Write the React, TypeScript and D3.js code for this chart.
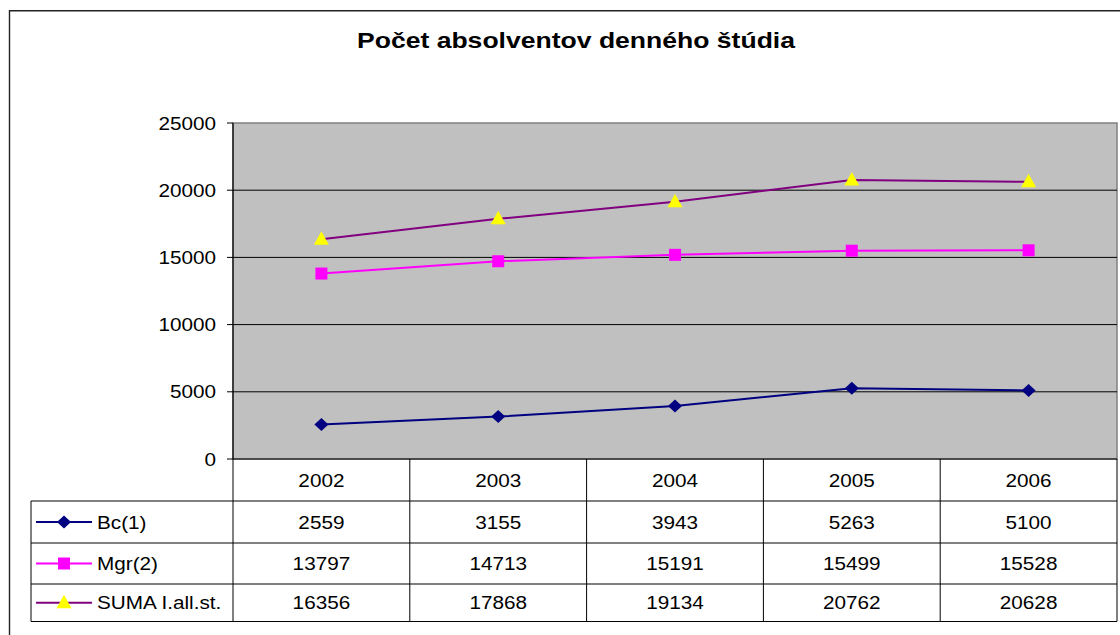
import React from "react";
import * as d3 from "d3";

const years = ["2002", "2003", "2004", "2005", "2006"];
const seriesNames = ["Bc(1)", "Mgr(2)", "SUMA I.all.st."];
const bcValues = [2559, 3155, 3943, 5263, 5100];
const mgrValues = [13797, 14713, 15191, 15499, 15528];
const sumaValues = [16356, 17868, 19134, 20762, 20628];
const yTicks = [0, 5000, 10000, 15000, 20000, 25000];
const title = "Počet absolventov denného štúdia";

const FONT = "'Liberation Sans', Arial, sans-serif";

const series = [
  { name: seriesNames[0], values: bcValues, line: "#000080", fill: "#000080", marker: "diamond" },
  { name: seriesNames[1], values: mgrValues, line: "#FF00FF", fill: "#FF00FF", marker: "square" },
  { name: seriesNames[2], values: sumaValues, line: "#800080", fill: "#FFFF00", marker: "triangle" },
];

function Marker({ kind, x, y, fill }: { kind: string; x: number; y: number; fill: string }) {
  if (kind === "diamond") {
    return <path d={`M${x},${y - 6.5} L${x + 7},${y} L${x},${y + 6.5} L${x - 7},${y} Z`} fill={fill} />;
  }
  if (kind === "square") {
    return <rect x={x - 6} y={y - 6} width={12} height={12} fill={fill} />;
  }
  return <path d={`M${x},${y - 8} L${x + 7.5},${y + 5.5} L${x - 7.5},${y + 5.5} Z`} fill={fill} />;
}

function SText({ x, y, anchor, children, size = 18.5 }: any) {
  return (
    <text
      transform={`translate(${x},${y}) scale(1.12,1)`}
      textAnchor={anchor}
      fontFamily={FONT}
      fontSize={size}
      fill="#000"
    >
      {children}
    </text>
  );
}

export default function App() {
  const W = 1120, H = 635;
  const left = 233, right = 1117, top = 123, bottom = 459;
  const x = d3.scaleBand<string>().domain(years).range([left, right]);
  const y = d3.scaleLinear().domain([0, 25000]).range([bottom, top]);
  const rowTops = [459, 501, 543, 584, 621.5];
  const tableLeft = 31;
  const line = d3
    .line<number>()
    .x((_, i) => (x(years[i]) as number) + x.bandwidth() / 2)
    .y((v) => y(v));

  return (
    <svg width={W} height={H} style={{ position: "absolute", left: 0, top: 0, background: "#fff" }}>
      <rect x={0} y={0} width={W} height={H} fill="#fff" />
      {/* outer frame */}
      <path d={`M9.5,${H} L9.5,10.7 L${W},10.7`} fill="none" stroke="#222" strokeWidth={1.4} />

      {/* title */}
      <text
        x={576}
        y={48}
        textAnchor="middle"
        fontFamily={FONT}
        fontWeight="bold"
        fontSize={21.5}
        textLength={438}
        lengthAdjust="spacingAndGlyphs"
      >
        {title}
      </text>

      {/* plot area */}
      <rect x={left} y={top} width={right - left} height={bottom - top} fill="#C0C0C0" stroke="#808080" strokeWidth={1.5} />
      {yTicks.slice(1, -1).map((t) => (
        <line key={t} x1={left} x2={right} y1={y(t)} y2={y(t)} stroke="#000" strokeWidth={1} />
      ))}
      {/* y axis */}
      <line x1={left} x2={left} y1={top} y2={bottom} stroke="#000" strokeWidth={1.2} />
      {yTicks.map((t) => (
        <g key={t}>
          <line x1={227} x2={left} y1={y(t)} y2={y(t)} stroke="#000" strokeWidth={1} />
          <SText x={216} y={y(t) + 6.5} anchor="end">{String(t)}</SText>
        </g>
      ))}

      {/* series */}
      {series.map((s) => (
        <g key={s.name}>
          <path d={line(s.values) || ""} fill="none" stroke={s.line} strokeWidth={2} />
          {s.values.map((v, i) => (
            <Marker key={i} kind={s.marker} x={(x(years[i]) as number) + x.bandwidth() / 2} y={y(v)} fill={s.fill} />
          ))}
        </g>
      ))}

      {/* data table */}
      <line x1={left} x2={right} y1={bottom} y2={bottom} stroke="#000" strokeWidth={1.2} />
      {rowTops.slice(1).map((ry) => (
        <line key={ry} x1={tableLeft} x2={right} y1={ry} y2={ry} stroke="#000" strokeWidth={1} />
      ))}
      <line x1={tableLeft} x2={tableLeft} y1={rowTops[1]} y2={rowTops[4]} stroke="#000" strokeWidth={1} />
      {years.map((yr) => (
        <line key={yr} x1={x(yr)} x2={x(yr)} y1={bottom} y2={rowTops[4]} stroke="#000" strokeWidth={1} />
      ))}
      <line x1={right} x2={right} y1={bottom} y2={rowTops[4]} stroke="#000" strokeWidth={1} />
      {years.map((yr) => (
        <SText key={yr} x={(x(yr) as number) + x.bandwidth() / 2} y={(rowTops[0] + rowTops[1]) / 2 + 6.5} anchor="middle">
          {yr}
        </SText>
      ))}
      {series.map((s, r) => {
        const cy = (rowTops[r + 1] + rowTops[r + 2]) / 2;
        return (
          <g key={s.name}>
            <line x1={36} x2={92} y1={cy} y2={cy} stroke={s.line} strokeWidth={2} />
            <Marker kind={s.marker} x={64} y={cy} fill={s.fill} />
            <SText x={97} y={cy + 6.5} anchor="start">{s.name}</SText>
            {s.values.map((v, i) => (
              <SText key={i} x={(x(years[i]) as number) + x.bandwidth() / 2} y={cy + 6.5} anchor="middle">
                {String(v)}
              </SText>
            ))}
          </g>
        );
      })}
    </svg>
  );
}
